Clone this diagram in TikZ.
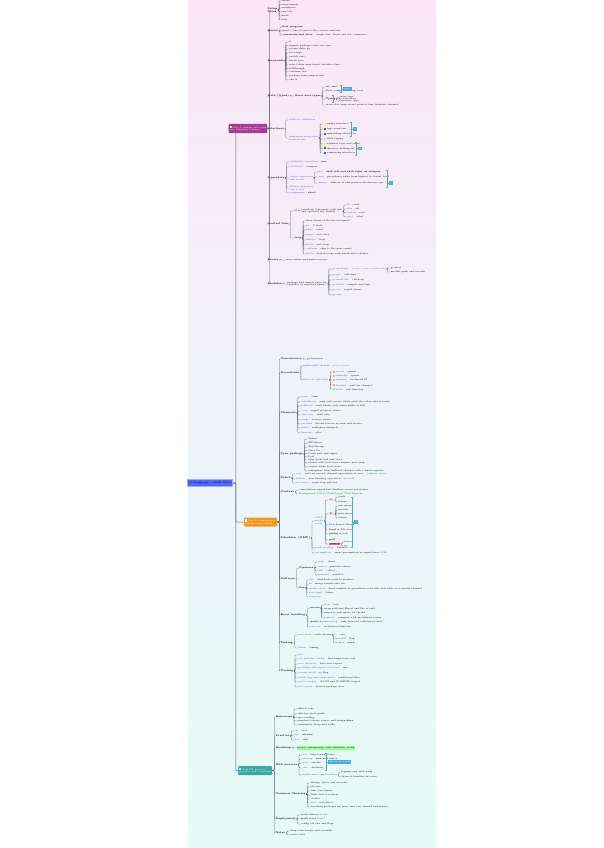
\documentclass[tikz,border=0pt]{standalone}
\usepackage{tikz}
\usepackage{xcolor}
\usetikzlibrary{positioning}

\definecolor{bgpink}{RGB}{252,230,246}
\definecolor{bgmid}{RGB}{238,243,250}
\definecolor{bgmint}{RGB}{229,251,245}
\definecolor{rootblue}{RGB}{84,102,245}
\definecolor{plum}{RGB}{166,58,150}
\definecolor{amber}{RGB}{245,152,30}
\definecolor{seagreen}{RGB}{58,168,166}
\definecolor{wire}{RGB}{88,98,128}
\definecolor{keyblue}{RGB}{55,80,235}
\definecolor{sumblue}{RGB}{70,170,220}

\newcommand{\kw}[1]{\textcolor{keyblue}{#1}}
\newcommand{\chip}[1]{\textcolor{#1}{\rule{2.4pt}{2.4pt}}\hspace{0.8pt}}
\newcommand{\tagbox}[2]{{\setlength{\fboxsep}{0.5pt}\colorbox{#1}{#2}}}
% leaves hanging off one parent: parent, gap, list of y/text
\newcommand{\twigs}[3]{%
  \path (#1.east) ++(#2,0) coordinate (#1x);
  \foreach \y/\lbl [count=\idx] in {#3}{%
    \node[leaf] (#1l\idx) at (#1x |- 0,\y) {\lbl};
    \draw[link] (#1.east) -- ++(1.2,0) |- (#1l\idx.west);
  }}

\begin{document}
\begin{tikzpicture}[
  x=1pt, y=-1pt,
  tiny/.style={font=\fontsize{2.3}{2.8}\selectfont},
  root/.style={font=\fontsize{2.6}{3}\selectfont, draw=rootblue!55, line width=0.8pt,
               fill=rootblue, minimum width=38pt, minimum height=7pt, inner sep=0.5pt},
  hub/.style={tiny, text=white, rounded corners=1pt, align=left, inner sep=1pt,
              minimum height=9pt},
  sub/.style={font=\fontsize{2.5}{3}\selectfont\bfseries, anchor=west, align=left,
              inner sep=0.5pt},
  leaf/.style={tiny, anchor=west, align=left, inner sep=0.5pt},
  link/.style={draw=wire, line width=0.3pt, rounded corners=0.8pt},
  spine/.style={draw=wire, line width=0.5pt, rounded corners=1pt},
  brace/.style={draw=sumblue, line width=0.4pt},
  sumbox/.style={tiny, fill=sumblue, text=white, inner sep=0.6pt, minimum height=3.5pt}
]
  \useasboundingbox (0,0) rectangle (603,848);
  \fill[white] (0,0) rectangle (603,848);
  \shade[top color=bgpink, bottom color=bgmint, middle color=bgmid] (188,0) rectangle (436,848);

  % central topic and the three parts
  \node[root] (root) at (210,483) {Go Language -- Study Notes};
  \node[hub, fill=plum, minimum width=30pt] (hub1) at (248,128.5)
       {\chip{yellow}Part I: syntax and types\\core language features};
  \node[hub, fill=amber, minimum width=31pt] (hub2) at (260.5,522)
       {\chip{white}Part II: concurrency\\runtime and tooling};
  \node[hub, fill=seagreen, minimum width=34pt] (hub3) at (255,770.5)
       {\chip{cyan!30}Part III: practice\\projects and ecosystem};

  \draw[spine] (root.east) -- ++(3,0) |- (hub1.west);
  \draw[spine] (root.east) -- ++(3,0) |- (hub2.west);
  \draw[spine] (root.east) -- ++(3,0) |- (hub3.west);

  % part I
  \foreach \y/\lbl [count=\i] in {10/{Setup\\notes}, 31/{Basics}, 61/{Keywords},
      96/{Data (types)}, 129/{Interfaces}, 178/{Operators}, 224/{Control flow},
      260/{Errors}, 284/{Modules}}
  {\node[sub] (a\i) at (267,\y) {\lbl};
   \draw[link] (hub1.east) -- ++(2,0) |- (a\i.west);}

  \twigs{a1}{3}{1/{install}, 4.5/{environment}, 8/{workspace}, 12/{run test}, 16/{build}, 20/{help}}
  \twigs{a2}{3}{27/{\textbf{first program}}, 31/{print a line of text to the console and exit},
      35/{\textbf{comments and docs:} \quad single line, block and doc comments}}
  \twigs{a3}{4}{42/{if}, 45.5/{import package const var type}, 49/{return defer go},
      53/{for range}, 57/{switch case}, 61/{break goto}, 65/{select chan map struct interface func},
      68.5/{fallthrough}, 72/{continue else}, 76/{package main import fmt}, 80/{else if}}
  \twigs{a4}{5}{96/{\textbf{Basic data types}}}
  \twigs{a4l1}{4}{87/{int, uint}, 91/{float, complex, string, bool}, 99/{\textbf{Types}},
      105/{array slice map struct pointer func interface channel}}
  \twigs{a4l1l3}{3}{97/{value type}, 101/{reference type}}
  \draw[brace] (340,85.5) -- (341.5,85.5) -- (341.5,92.5) -- (340,92.5) (341.5,89) -- (343,89);
  \node[sumbox, anchor=west] (s1) at (343,89) {types};
  \draw[brace] (332,95.5) -- (333.5,95.5) -- (333.5,102.5) -- (332,102.5) (333.5,99) -- (335,99);
  \node[leaf] (s2) at (335,99) {copy semantics};

  \twigs{a5}{4}{120/{\kw{interface definition}},
      138/{\kw{implementation rules}\\\kw{method sets}}}
  \twigs{a5l2}{4}{124/{\chip{yellow}empty interface}, 129/{\chip{green!60!black}type assertion},
      134/{\chip{blue!70}embedding interfaces}, 139/{\chip{gray!30}duck typing},
      144/{\chip{yellow}dynamic type and value}, 148.5/{\chip{green!60!black}interface holding nil},
      153/{\chip{blue!70}comparing interfaces}}
  \draw[brace] (350,122) -- (351.5,122) -- (351.5,136) -- (350,136) (351.5,129) -- (353,129);
  \node[sumbox, anchor=west] (s3) at (353,129) {A};
  \draw[brace] (355,142) -- (356.5,142) -- (356.5,155) -- (355,155) (356.5,148.5) -- (358,148.5);
  \node[sumbox, anchor=west] (s4) at (358,148.5) {B};

  \twigs{a6}{4}{162/{\kw{arithmetic operators} \quad plus}, 167/{\kw{relational} \quad compare},
      178/{\kw{logical operators}\\\kw{and or not}}, 188/{\kw{bitwise operators}\\\kw{and or xor}},
      193/{\kw{assignment} \quad \textbf{short}}}
  \twigs{a6l3}{5}{172/{\kw{bit} \quad \textbf{shift left and shift right on integers}},
      177/{\kw{and} \quad precedence rules from highest to lowest level},
      183/{\kw{unary} \quad address of and pointer dereference ops}}
  \draw[brace] (386,170) -- (387.5,170) -- (387.5,187) -- (386,187) (387.5,183) -- (389,183);
  \node[sumbox, anchor=west] (s5) at (389,183) {C};

  \twigs{a7}{5}{211/{\textbf{if}}, 238/{\textbf{loop}}}
  \twigs{a7l1}{3}{211/{condition statement with init\\and optional else branch}}
  \twigs{a7l1l1}{4}{205/{\kw{if} \quad cond}, 209/{\kw{else} \quad alt}, 213/{\kw{switch} \quad case},
      217/{\kw{goto} \quad label}}
  \twigs{a7l2}{3}{221/{three forms of the for statement}, 226/{\kw{for} \quad C style},
      230/{\kw{while} \quad cond}, 235/{\kw{range} \quad over slice}, 240/{\kw{infinite} \quad loop},
      245/{\kw{break} \quad exit loop}, 249/{\kw{continue} \quad skip to the next round},
      254/{\kw{labels} \quad nested loops with break and continue}}
  \twigs{a8}{6}{260/{error values and panic recover}}
  \twigs{a9}{4}{284/{package and import rules for\\visibility of exported names}}
  \twigs{a9l1}{4}{269/{\kw{go mod init} \quad \textcolor{gray}{create a new module file}},
      275/{\kw{go get} \quad add deps}, 280/{\kw{go mod tidy} \quad clean up},
      285/{\kw{go build} \quad compile and link}, 290/{\kw{go vet} \quad report issues}, 295/{\kw{go run}}}
  \twigs{a9l1l1}{4}{268/{go.mod}, 272/{module path and version}}

  % part II
  \foreach \y/\lbl [count=\i] in {359/{Concurrency}, 373/{Goroutines}, 413/{Channels},
      454/{Sync package}, 478/{Select}, 492/{Context}, 538/{Scheduler (GMP)}, 579/{Patterns},
      615/{Error handling}, 643/{Testing}, 671/{Tooling}}
  {\node[sub] (b\i) at (280,\y) {\lbl};
   \draw[link] (hub2.east) -- ++(2,0) |- (b\i.west);}

  \twigs{b1}{4}{359/{go keyword}}
  \twigs{b2}{3}{366/{\kw{lightweight threads} \quad \textcolor{gray}{stack grows}},
      380/{\kw{lifecycle and state}}}
  \twigs{b2l2}{3}{372/{\chip{orange!60}\kw{create} \quad spawn}, 376/{\chip{orange!60}\kw{runnable} \quad queue},
      380/{\chip{orange!60}\kw{running} \quad on thread M}, 385/{\chip{orange!60}\kw{blocked} \quad wait for channel},
      389/{\chip{green!50}\kw{dead} \quad exit function}}
  \twigs{b3}{4}{397/{\kw{make} \quad chan}, 402/{\kw{unbuffered} \quad send and receive block until the other side is ready},
      406/{\kw{buffered} \quad send blocks only when buffer is full}, 411/{\kw{close} \quad signal no more values},
      415/{\kw{direction} \quad send only}, 420/{\kw{range} \quad receive values},
      424/{\kw{nil chan} \quad blocks forever in send and receive},
      428/{\kw{select} \quad multiplex channels}, 433/{\kw{timeout} \quad after}}
  \twigs{b4}{4}{439/{Mutex}, 443/{RWMutex}, 447/{WaitGroup}, 450.5/{Once Do},
      453.5/{Cond wait and signal}, 457/{Pool}, 460/{Map with load and store},
      463/{atomic add load store compare and swap}, 467/{atomic value load store},
      471/{semaphore from buffered channel with a fixed capacity}}
  \twigs{b5}{4}{474/{\kw{case} \quad wait on several channel operations at once \quad \textcolor{green!60!black}{random choice}},
      479/{\kw{default} \quad non blocking operation \quad \textcolor{green!60!black}{no wait}},
      483/{\kw{for select} \quad event loop pattern}}
  \twigs{b6}{4}{490/{cancellation signal and deadline across goroutines},
      494/{\textcolor{green!50!black}{Background TODO WithCancel WithTimeout}}}
  \twigs{b7}{4}{521/{\kw{GMP}\\\kw{model}\\\kw{parts}}, 548/{\kw{work stealing} \quad balance},
      553/{\kw{preemption} \quad async preemption by signal since 1.14}}
  \twigs{b7l1}{4}{500/{\tagbox{pink!70}{G \,}}, 514/{\tagbox{orange!30}{\textbf{P \,}}},
      525/{M}, 530/{\textbf{local}}, 534/{\textbf{global}}, 540/{\textbf{poll}},
      544/{\tagbox{red!60}{sysmon}}}
  \twigs{b7l1l1}{3}{497/{stack}, 502/{status}}
  \twigs{b7l1l2}{3}{506/{run queue}, 510/{mcache}, 514/{max procs}, 518/{timers}}
  \twigs{b7l1l3}{3}{525/{kernel thread}}
  \twigs{b7l1l4}{3}{530/{256 slots}}
  \twigs{b7l1l5}{3}{534/{lock}}
  \twigs{b7l1l7}{3}{542/{forced}, 546/{gc}}
  \draw[brace] (351,497) -- (352.5,497) -- (352.5,547) -- (351,547) (352.5,522) -- (354,522);
  \node[sumbox, anchor=west] (s6) at (354,522) {D};

  \twigs{b8}{3}{568/{\textbf{Pipelines}}, 588/{\textbf{Fan}}}
  \twigs{b8l1}{3}{562/{\kw{stage} \quad chain}, 567/{\kw{source} \quad generate values},
      571/{\kw{sink} \quad collect}, 575/{\kw{bounded} \quad parallel}}
  \twigs{b8l2}{3}{580/{\kw{out} \quad distribute work to workers}, 584/{\kw{in} \quad merge results into one},
      589/{\kw{worker pool} \quad fixed number of goroutines read jobs and write to a results channel},
      593/{\kw{rate limit} \quad ticker}, 597/{\kw{errgroup}}}
  \twigs{b9}{4}{608/{\textbf{errors}}, 622/{\textbf{panic}}, 627/{\kw{recover} \quad in deferred function}}
  \twigs{b9l1}{3}{605/{\kw{New} \quad text}, 609/{wrap with fmt Errorf and the w verb},
      613/{errors Is and errors As checks}, 618/{\kw{sentinel} \quad compare with predefined errors}}
  \twigs{b9l2}{3}{622/{\kw{unwinding} \quad runs deferred calls before exit}}
  \twigs{b10}{4}{635/{\kw{unit tests} \quad table driven}, 648/{\kw{bench} \quad timing}}
  \twigs{b10l1}{3}{635/{\kw{t} \quad run}, 639/{\kw{parallel} \quad flag}, 643/{\kw{helper} \quad mark}}
  \twigs{b11}{4}{655/{\kw{fmt}}, 659/{\kw{vet and lint checks} \quad find suspicious code},
      664/{\kw{race detector} \quad data race report}, 668/{\kw{profiling with pprof and trace} \quad cpu},
      673/{\kw{escape check} \quad gc flag}, 678/{\kw{build tags and constraints} \quad conditional files},
      682/{\kw{cross compile} \quad GOOS and GOARCH targets}, 687/{\kw{doc server} \quad browse package docs}}

  % part III
  \foreach \y/\lbl [count=\i] in {717/{Resources}, 736/{Practice}, 748/{Roadmap},
      765/{Web services}, 794/{Common libraries}, 819/{Deployment}, 833/{Notes}}
  {\node[sub] (c\i) at (275,\y) {\lbl};
   \draw[link] (hub3.east) -- ++(2,0) |- (c\i.west);}

  \twigs{c1}{4}{709/{official tour}, 714/{effective style guide}, 717.5/{spec reading},
      721/{standard library source and design \textbf{docs}}, 725/{community blogs and talks}}
  \twigs{c2}{4}{731/{\kw{cli} \quad tool}, 735/{\kw{api} \quad \textbf{service}}, 740/{\kw{bot} \quad chat}}
  \twigs{c3}{4}{748/{\tagbox{green!40}{basics, concurrency, web, database, cloud}}}
  \twigs{c4}{4}{755/{\kw{net} \quad http server basics}, 759/{\kw{routing} \quad mux and router},
      763/{\kw{json} \quad encode}, 768/{\kw{orm} \quad database}, 775/{\kw{middleware and handlers}}}
  \twigs{c4l5}{3}{772/{logging and auth wrap}, 777/{chain of handlers in order}}
  \draw[brace] (325,753) -- (326.5,753) -- (326.5,770) -- (325,770) (326.5,762) -- (328,762);
  \node[sumbox, anchor=west] (s7) at (328,762) {web frameworks};
  \twigs{c5}{4}{783/{strings, bytes and unicode}, 787/{strconv}, 791/{time and timers},
      795/{bufio and io readers}, 799/{os files}, 803/{\kw{sort} \quad sort slices},
      807/{encoding packages for json, xml, csv, base64 and binary}}
  \twigs{c6}{4}{815/{static binary \kw{docker}}, 819/{multi stage \kw{build}}, 824/{config via env and flags}}
  \twigs{c7}{4}{831/{keep code simple and readable}, 835/{write tests}}
\end{tikzpicture}
\end{document}
